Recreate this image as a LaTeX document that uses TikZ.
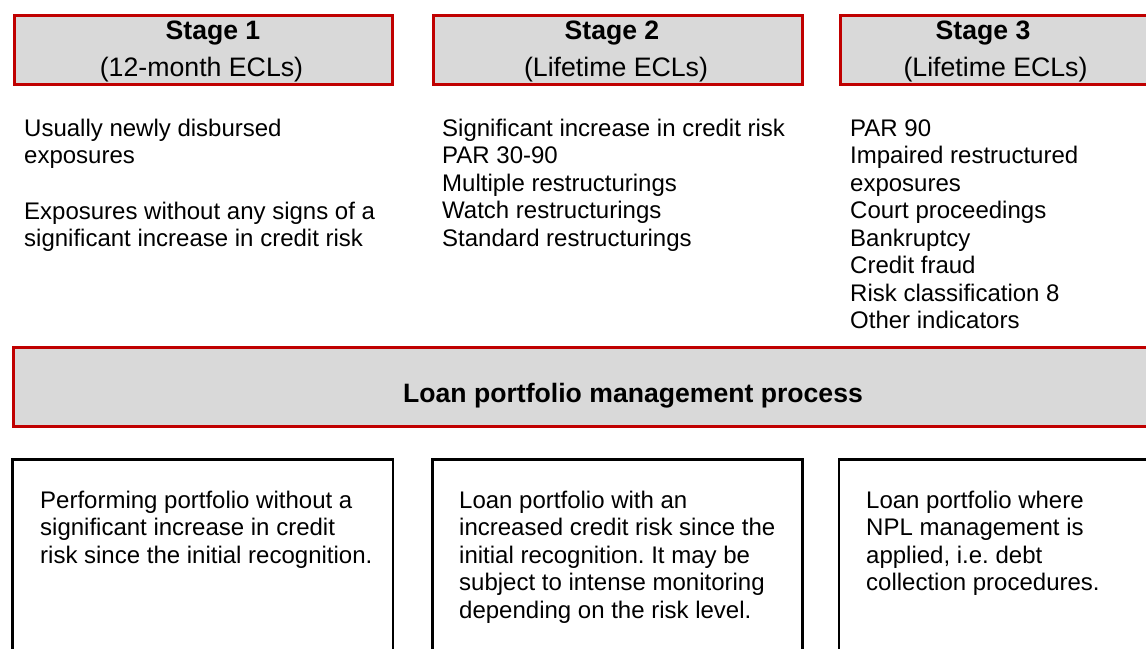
\documentclass[tikz,border=0pt]{standalone}
\usepackage{fontspec}
\setmainfont{Liberation Sans}
\frenchspacing
\definecolor{stagered}{HTML}{C00000}
\definecolor{bandgray}{HTML}{D9D9D9}

\begin{document}
\begin{tikzpicture}[x=1pt, y=-1pt,
  redbox/.style={draw=stagered, fill=bandgray, line width=3pt, inner sep=0, anchor=north west},
  portbox/.style={draw=black, line width=2.4pt, inner sep=0, anchor=north west},
  stagetitle/.style={font=\bfseries\fontsize{26.6}{30}\selectfont, anchor=base, inner sep=0},
  stagesub/.style={font=\fontsize{26.7}{30}\selectfont, anchor=base, inner sep=0},
  % multi-line blocks are placed by the baseline of their last line
  bodytext/.style={font=\fontsize{24}{27.5}\selectfont, anchor=base west, align=left, inner sep=0}]

\useasboundingbox (0,0) rectangle (1146,648);
\clip (0,0) rectangle (1146,648);

% stage headers
\node[redbox, minimum width=378, minimum height=69] (h1) at (12.5,13.8) {};
\node[redbox, minimum width=369, minimum height=69] (h2) at (431.8,13.8) {};
\node[redbox, minimum width=369, minimum height=69] (h3) at (838.8,13.8) {};

\node[stagetitle] (t1) at (213,39.3) {Stage 1};
\node[stagetitle] (t2) at (612,39.3) {Stage 2};
\node[stagetitle] (t3) at (983,39.3) {Stage 3};
\node[stagesub] (u1) at (201.5,76) {(12-month ECLs)};
\node[stagesub] (u2) at (616,76) {(Lifetime ECLs)};
\node[stagesub] (u3) at (995.5,76) {(Lifetime ECLs)};

% criteria per stage
\node[bodytext] (c1a) at (24,163.5) {Usually newly disbursed\\exposures};
\node[bodytext] (c1b) at (24,246.5) {Exposures without any signs of a\\significant increase in credit risk};
\node[bodytext] (c2) at (442,246) {Significant increase in credit risk\\PAR 30-90\\Multiple restructurings\\Watch restructurings\\Standard restructurings};
\node[bodytext] (c3) at (850,328.5) {PAR 90\\Impaired restructured\\exposures\\Court proceedings\\Bankruptcy\\Credit fraud\\Risk classification 8\\Other indicators};

% process band
\node[redbox, minimum width=1300, minimum height=79.3] (band) at (11.5,345.5) {};
\node[stagetitle, anchor=base west] (bandtext) at (403,402) {Loan portfolio management process};

% portfolio boxes
\node[portbox, minimum width=380.8, minimum height=300] (p1) at (11.2,458.3) {};
\node[portbox, minimum width=370.1, minimum height=300] (p2) at (431.2,458.3) {};
\node[portbox, minimum width=370, minimum height=300] (p3) at (838,458.3) {};

\node[bodytext] (d1) at (40,563) {Performing portfolio without a\\significant increase in credit\\risk since the initial recognition.};
\node[bodytext] (d2) at (459,618) {Loan portfolio with an\\increased credit risk since the\\initial recognition. It may be\\subject to intense monitoring\\depending on the risk level.};
\node[bodytext] (d3) at (866,590.5) {Loan portfolio where\\NPL management is\\applied, i.e. debt\\collection procedures.};
\end{tikzpicture}
\end{document}
